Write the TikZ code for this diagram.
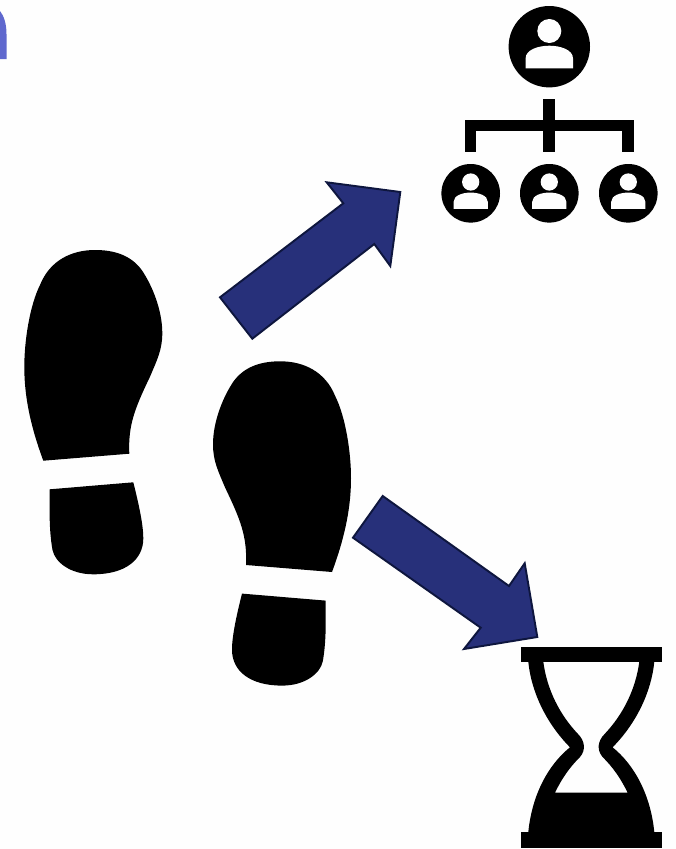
\documentclass[tikz,border=0pt]{standalone}
\usepackage{tikz}

\definecolor{paper}{RGB}{254,254,254}
\definecolor{arrowblue}{RGB}{39,48,122}
\definecolor{arrowedge}{RGB}{14,22,62}
\definecolor{cornerblue}{RGB}{95,104,206}

\tikzset{
  bigarrow/.style={fill=arrowblue,draw=arrowedge,line width=1.1pt,line join=miter},
  person/.pic={
    \fill[black] (0,0) circle (40.7);
    \fill[paper] (0,-15.7) circle (12);
    \fill[paper] (-23.7,21.7)--(-23.7,11.7) .. controls (-23.7,3) and (-11,-1) .. (0,-1)
      .. controls (11,-1) and (23.7,3) .. (23.7,11.7)--(23.7,21.7)--cycle;
  },
  shoe/.pic={
    \fill[black] (129.3,453.7) .. controls (128,425) and (135,408) .. (150,376.7)
      .. controls (157,360) and (162.3,350) .. (162.3,333)
      .. controls (162.3,310) and (152,285) .. (141.7,270)
      .. controls (130,254) and (112,250) .. (95,250)
      .. controls (72,250) and (50,260) .. (40,285)
      .. controls (30,305) and (24.3,340) .. (24.3,366.7)
      .. controls (24.3,400) and (32,430) .. (43.3,460.7)--cycle;
    \fill[black] (133.3,482.3) .. controls (139,505) and (143.3,525) .. (143.3,538.3)
      .. controls (143.3,560) and (125,574.3) .. (93.3,574.3)
      .. controls (70,574.3) and (55,562) .. (52.5,550)
      .. controls (49,530) and (49.5,510) .. (49.7,489.3)--cycle;
  },
}

\begin{document}
\begin{tikzpicture}[x=0.02cm,y=-0.02cm]
  \useasboundingbox (0,0) rectangle (676,849);
  \fill[paper] (0,0) rectangle (676,849);

  % resto azul en la esquina
  \fill[cornerblue] (0,11) .. controls (4,16) and (6.5,24) .. (6.5,34)--(6.5,59)--(0,59)--cycle;

  % huellas
  \pic at (0,0) {shoe};
  \pic[xscale=-1] at (375.3,111.3) {shoe};

  % flechas
  \draw[bigarrow] (220,297.3)--(343.3,203.3)--(326.7,182.3)--(400.3,192)--(390.3,266)--(374.3,244)--(252.3,338.7)--cycle;
  \draw[bigarrow] (382.7,496)--(509,586)--(524.7,563.3)--(537.3,637)--(464,649)--(480.7,627.7)--(353,537.7)--cycle;

  % organigrama
  \pic at (549.3,46.7) {person};
  \foreach \px in {470.7,549.3,628.3}
    \pic[scale=0.72] at (\px,193.3) {person};
  \fill[black] (543.3,99.3) rectangle (555,152.3);
  \fill[black] (464.7,120) rectangle (634,131.3);
  \fill[black] (464.7,120) rectangle (476.3,152.3);
  \fill[black] (622.3,120) rectangle (634,152.3);

  % reloj de arena
  \fill[black] (521,646.7) rectangle (661.7,661.7);
  \fill[black] (521,832) rectangle (661.7,847.7);
  \fill[black,even odd rule]
    (528.3,661.7) .. controls (531,690) and (545,722) .. (570,747.3)
    .. controls (548,765) and (532,795) .. (528.3,832)
    -- (654.3,832)
    .. controls (650.6,795) and (634.6,765) .. (612.6,747.3)
    .. controls (637.6,722) and (651.6,690) .. (654.3,661.7)
    -- cycle
    (543.3,661.7) .. controls (547,690) and (560,715) .. (578,734)
    .. controls (585,741) and (586,750) .. (580,757)
    .. controls (570,767) and (562,778) .. (555,792.7)
    -- (627.6,792.7)
    .. controls (620.6,778) and (612.6,767) .. (602.6,757)
    .. controls (596.6,750) and (597.6,741) .. (604.6,734)
    .. controls (622.6,715) and (635.6,690) .. (639.3,661.7)
    -- cycle;
\end{tikzpicture}
\end{document}
